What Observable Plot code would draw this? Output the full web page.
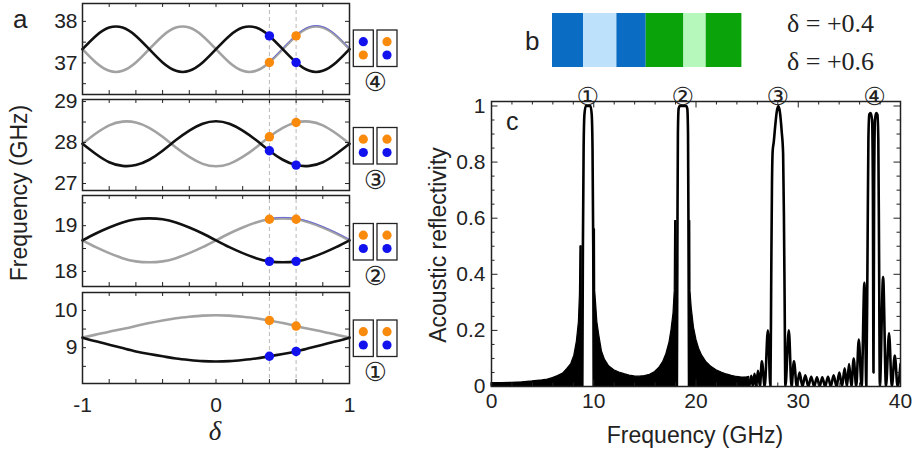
<!DOCTYPE html>
<html><head><meta charset="utf-8">
<script src="https://cdn.jsdelivr.net/npm/d3@7"></script>
<script src="https://cdn.jsdelivr.net/npm/@observablehq/plot@0.6"></script>
<style>
body{margin:0;background:#fff;}
#root{position:relative;width:913px;height:457px;overflow:hidden;font-family:"Liberation Sans",Arial,sans-serif;color:#222;background:#fff;}
#root svg{position:absolute;}
</style></head><body><div id="root"></div>
<script>
// ---------- Panel a data (band frequencies, GHz, vs delta) ----------
const delta = [-1,-0.9,-0.8,-0.7,-0.6,-0.5,-0.4,-0.3,-0.2,-0.1,0,0.1,0.2,0.3,0.4,0.5,0.6,0.7,0.8,0.9,1];
const mode4Black = [37.33,37.65,37.85,37.85,37.65,37.33,37.01,36.81,36.81,37.01,37.33,37.65,37.85,37.85,37.65,37.33,37.01,36.81,36.81,37.01,37.33];
const mode4Gray  = [37.33,37.01,36.81,36.81,37.01,37.33,37.65,37.85,37.85,37.65,37.33,37.01,36.81,36.81,37.01,37.33,37.65,37.85,37.85,37.65,37.33];
const mode3Black = [27.97,27.72,27.52,27.43,27.45,27.58,27.80,28.06,28.29,28.46,28.52,28.46,28.29,28.06,27.80,27.58,27.45,27.43,27.52,27.72,27.97];
const mode3Gray  = [27.97,28.22,28.42,28.51,28.49,28.36,28.14,27.88,27.65,27.48,27.42,27.48,27.65,27.88,28.14,28.36,28.49,28.51,28.42,28.22,27.97];
const mode2Black = [18.68,18.83,18.96,19.07,19.14,19.16,19.14,19.07,18.96,18.83,18.68,18.53,18.40,18.29,18.22,18.20,18.22,18.29,18.40,18.53,18.68];
const mode2Gray  = [18.68,18.53,18.40,18.29,18.22,18.20,18.22,18.29,18.40,18.53,18.68,18.83,18.96,19.07,19.14,19.16,19.14,19.07,18.96,18.83,18.68];
const mode1Black = [9.27,9.17,9.08,8.99,8.90,8.83,8.77,8.71,8.67,8.64,8.63,8.64,8.67,8.71,8.77,8.83,8.90,8.99,9.08,9.17,9.27];
const mode1Gray  = [9.27,9.35,9.43,9.50,9.58,9.66,9.73,9.79,9.83,9.86,9.87,9.86,9.83,9.79,9.73,9.66,9.58,9.50,9.43,9.35,9.27];
const dotDelta = [0.4, 0.6];
const mode4Blue = [37.65, 37.01], mode4Orange = [37.01, 37.65];
const mode3Blue = [27.80, 27.45], mode3Orange = [28.14, 28.49];
const mode2Blue = [18.22, 18.22], mode2Orange = [19.14, 19.14];
const mode1Blue = [8.77, 8.90],  mode1Orange = [9.73, 9.58];
const deltaTicks = [-1, 0, 1];
const modeLabels = ["④", "③", "②", "①"];
// legend dot order in the two boxes (top, bottom) for each mode
const legendOrder = [[["blue","orange"],["orange","blue"]],[["orange","blue"],["orange","blue"]],[["orange","blue"],["orange","blue"]],[["orange","blue"],["orange","blue"]]];

// ---------- Panel b data (layer thicknesses, arbitrary units) ----------
const layerThickness = [31, 33.4, 29.3, 37.7, 22.3, 35.7];
const layerColor = ["#0a6cc2", "#bde1fb", "#0a6cc2", "#0aa30a", "#b6f7bc", "#0aa30a"];
const layerLabels = ["δ = +0.4", "δ = +0.6"];

// ---------- Panel c data (reflectivity vs frequency, GHz) ----------
const sidelobesLow = [[0,0.012],[1,0.012],[2,0.013],[3,0.015],[4,0.018],[5,0.022],[5.5,0.025],[6,0.03],[6.5,0.037],[7,0.046],[7.4,0.062],[7.8,0.08],[8.1,0.11],[8.35,0.16],[8.55,0.23],[8.65,0.33],[8.7,0.5],[8.82,0.5],[8.84,0]];
const peak1 = [[8.88,0],[8.94,0.5],[9.01,0.85],[9.09,0.97],[9.22,1.0],[9.68,1.0],[9.8,0.97],[9.88,0.85],[9.95,0.5],[10.0,0]];
const sidelobesMid1 = [[10.02,0],[10.03,0.56],[10.12,0.56],[10.14,0.34],[10.22,0.3],[10.35,0.23],[10.55,0.18],[10.8,0.125],[11.1,0.095],[11.5,0.072],[12,0.058],[12.5,0.05],[13,0.044],[13.5,0.039],[14,0.036],[14.5,0.035],[15,0.037],[15.5,0.042],[16,0.052],[16.4,0.066],[16.8,0.088],[17.1,0.115],[17.4,0.155],[17.6,0.2],[17.8,0.26],[17.92,0.34],[17.96,0.59],[18.08,0.59],[18.1,0]];
const peak2 = [[18.13,0],[18.18,0.5],[18.23,0.9],[18.3,0.99],[18.4,1.0],[19.05,1.0],[19.15,0.99],[19.22,0.9],[19.27,0.5],[19.32,0]];
const sidelobesMid2 = [[19.33,0],[19.34,0.59],[19.44,0.59],[19.46,0.34],[19.58,0.28],[19.8,0.21],[20.05,0.165],[20.3,0.135],[20.6,0.11],[21,0.088],[21.5,0.07],[22,0.058],[22.5,0.05],[23,0.043],[23.5,0.038],[24,0.034],[24.5,0.032],[25,0.033],[25.2,0.034],[25.25,0]];
const tail = [[25.22,0],[25.4,0.038],[25.56,0],[25.72,0.045],[25.89,0],[26.06,0.056],[26.25,0],[26.44,0.09],[26.72,0],[27.03,0.2],[27.28,0],
  [27.36,0.4],[27.43,0.72],[27.5,0.84],[27.6,0.87],[27.75,0.93],[27.9,0.98],[28.05,1.0],[28.2,0.98],[28.38,0.91],[28.52,0.83],[28.6,0.6],[28.67,0.3],[28.74,0],
  [29.08,0.2],[29.34,0],[29.58,0.09],[29.86,0],[30.13,0.05],[30.41,0],[30.69,0.04],[30.98,0],[31.27,0.035],[31.55,0],[31.83,0.033],[32.09,0],[32.35,0.033],[32.63,0],[32.91,0.035],[33.18,0],[33.46,0.04],[33.74,0],[34.02,0.05],[34.28,0],[34.54,0.065],[34.76,0],[34.97,0.08],[35.2,0],[35.42,0.1],[35.67,0],[35.92,0.167],[36.2,0],[36.47,0.37],[36.66,0],
  [36.78,0.5],[36.86,0.88],[36.95,0.97],[37.08,0.975],[37.22,0.95],[37.3,0.7],[37.36,0.05],[37.42,0.7],[37.5,0.95],[37.62,0.975],[37.74,0.97],[37.83,0.88],[37.9,0.5],[37.98,0],
  [38.3,0.39],[38.58,0],[38.88,0.19],[39.15,0],[39.44,0.11],[39.72,0],[40,0.08]];
const freqTicks = [0, 10, 20, 30, 40];
const reflTicks = [0, 0.2, 0.4, 0.6, 0.8, 1];
const peakFreq = [9.4, 18.7, 28.0, 37.45];
const peakLabel = ["①", "②", "③", "④"];

// ---------- helpers ----------
const root = document.getElementById("root");
const INK = "#222";
const baseStyle = {background: "transparent", fontFamily: "Liberation Sans, Arial, sans-serif", fontSize: "21px", color: INK, overflow: "visible"};
function place(svg, left, top) { svg.style.left = left + "px"; svg.style.top = top + "px"; root.appendChild(svg); }
function frameTicks(xt, yt, fw, fh, lx, ly) {
  return [
    Plot.tickX(xt, {x: d => d, insetTop: fh - lx, stroke: INK, strokeWidth: 1}),
    Plot.tickX(xt, {x: d => d, insetBottom: fh - lx, stroke: INK, strokeWidth: 1}),
    Plot.tickY(yt, {y: d => d, insetRight: fw - ly, stroke: INK, strokeWidth: 1}),
    Plot.tickY(yt, {y: d => d, insetLeft: fw - ly, stroke: INK, strokeWidth: 1})
  ];
}

// ---------- dashed guide lines across panel a ----------
place(Plot.plot({
  width: 352, height: 381, marginLeft: 82, marginRight: 3, marginTop: 0, marginBottom: 0,
  x: {domain: [-1, 1], axis: null}, style: baseStyle,
  marks: [Plot.ruleX(dotDelta, {stroke: "#b8b8b8", strokeWidth: 1, strokeDasharray: "4,3"})]
}), 0, 3);

// ---------- panel a subplots ----------
const bands = [
  {black: mode4Black, gray: mode4Gray, blue: mode4Blue, orange: mode4Orange, domain: [36.24, 38.43], ticks: [37, 38], minor: [36.5, 37, 37.5, 38], top: 3, thin: 0.45},
  {black: mode3Black, gray: mode3Gray, blue: mode3Blue, orange: mode3Orange, domain: [26.83, 29.05], ticks: [27, 28, 29], minor: [27, 27.5, 28, 28.5, 29], top: 99},
  {black: mode2Black, gray: mode2Gray, blue: mode2Blue, orange: mode2Orange, domain: [17.67, 19.66], ticks: [18, 19], minor: [18, 18.5, 19, 19.5], top: 195, thin: 0.42},
  {black: mode1Black, gray: mode1Gray, blue: mode1Blue, orange: mode1Orange, domain: [8.04, 10.48], ticks: [9, 10], minor: [8.5, 9, 9.5, 10], top: 292, bottom: true}
];
const xMinor = [-0.8, -0.6, -0.4, -0.2, 0, 0.2, 0.4, 0.6, 0.8];
bands.forEach(s => {
  const fh = 91, W = 352, ml = 82, mr = 3, fw = W - ml - mr;
  const mb = s.bottom ? 34 : 0;
  const rows = delta.map((d, i) => ({d, b: s.black[i], g: s.gray[i]}));
  const dots = dotDelta.flatMap((d, i) => [{d, v: s.blue[i], c: "#1212ee"}, {d, v: s.orange[i], c: "#fa8a0c"}]);
  const marks = [
    Plot.line(rows, {x: "d", y: "g", stroke: "#a2a2a2", strokeWidth: 2.6, curve: "natural"}),
    s.thin ? Plot.line(rows.filter(r => r.d >= s.thin - 0.05), {x: "d", y: "g", stroke: "#6464dc", strokeWidth: 0.9, curve: "natural", dy: -1}) : null,
    Plot.line(rows, {x: "d", y: "b", stroke: "#111", strokeWidth: 2.6, curve: "natural"}),
    Plot.dot(dots, {x: "d", y: "v", fill: "c", r: 4.7}),
    ...frameTicks(xMinor, s.minor, fw, fh, 4, 4),
    Plot.frame({stroke: INK, strokeWidth: 1.5}),
    Plot.axisY({ticks: s.ticks, tickSize: 0, tickPadding: 5, tickFormat: d => String(d), label: null, fontSize: 21})
  ];
  if (s.bottom) marks.push(Plot.axisX({ticks: deltaTicks, tickSize: 0, tickPadding: 14, tickFormat: d => String(d), label: null, fontSize: 21}));
  const svg = Plot.plot({
    width: W, height: fh + mb, marginLeft: ml, marginRight: mr, marginTop: 0, marginBottom: mb,
    x: s.bottom ? {domain: [-1, 1]} : {domain: [-1, 1], axis: null},
    y: {domain: s.domain}, color: {type: "identity"}, style: baseStyle,
    marks: marks.filter(Boolean)
  });
  place(svg, 0, s.top);
});

// ---------- panel b ----------
place(Plot.plot({
  width: 280, height: 67, marginLeft: 72, marginRight: 280 - 72 - d3.sum(layerThickness), marginTop: 13, marginBottom: 0,
  x: {domain: [0, d3.sum(layerThickness)], axis: null}, color: {type: "identity"}, style: baseStyle,
  marks: [Plot.barX(layerThickness.map((w, i) => ({w, c: layerColor[i]})), {x: "w", fill: "c"})]
}), 480, 0);

// ---------- panel c ----------
const xMinorC = d3.range(2, 40, 2).filter(v => v % 10 !== 0);
const yMinorC = d3.range(1, 20).map(i => i * 0.05).filter((v, i) => (i + 1) % 4 !== 0);
const segs = [sidelobesLow, sidelobesMid1, sidelobesMid2].flatMap((seg, k) => seg.map(p => ({f: p[0], r: p[1], k})));
const lines = [peak1, peak2, tail].flatMap((seg, k) => seg.map(p => ({f: p[0], r: p[1], k})));
const fwC = 409, fhC = 285;
place(Plot.plot({
  width: 493, height: 457, marginLeft: 71, marginRight: 13, marginTop: 101, marginBottom: 71,
  x: {domain: [0, 40]}, y: {domain: [0, 1.016]}, style: baseStyle,
  marks: [
    Plot.areaY(segs, {x: "f", y: "r", z: "k", fill: "#000", stroke: "#000", strokeWidth: 1.2, curve: "linear"}),
    Plot.line(lines, {x: "f", y: "r", z: "k", stroke: "#000", strokeWidth: 2.6, curve: "monotone-x", clip: "frame"}),
    ...frameTicks(xMinorC, yMinorC, fwC, fhC, 3.5, 3.5),
    ...frameTicks(freqTicks, reflTicks, fwC, fhC, 6.5, 6.5),
    Plot.frame({stroke: INK, strokeWidth: 1.5}),
    Plot.axisY({ticks: reflTicks, tickSize: 0, tickPadding: 6, tickFormat: d => String(d), label: null, fontSize: 21}),
    Plot.axisX({ticks: freqTicks, tickSize: 0, tickPadding: 7, tickFormat: d => String(d), label: null, fontSize: 21}),
    Plot.text(peakFreq.map((f, i) => ({f, t: peakLabel[i]})), {x: "f", text: "t", frameAnchor: "top", lineAnchor: "bottom", dy: 3, fontSize: 25, fontFamily: "DejaVu Sans", fill: INK})
  ]
}), 420, 0);

// ---------- texts, legends ----------
const ov = d3.select(root).append("svg").attr("width", 913).attr("height", 457).style("left", "0px").style("top", "0px").style("pointer-events", "none");
const sans = "Liberation Sans, Arial, sans-serif";
function txt(x, y, s, o = {}) {
  return ov.append("text").attr("x", x).attr("y", y).text(s)
    .attr("font-family", o.ff || sans).attr("font-size", o.fs || 21).attr("fill", INK)
    .attr("text-anchor", o.anchor || "start").attr("font-style", o.style || null)
    .attr("transform", o.rot ? `rotate(-90 ${x} ${y})` : null);
}
txt(13, 28, "a", {fs: 26});
txt(525, 50, "b", {fs: 26});
txt(506, 130, "c", {fs: 25});
txt(27, 193, "Frequency (GHz)", {fs: 23, anchor: "middle", rot: true});
txt(215, 440, "δ", {fs: 27, ff: "Liberation Serif, serif", style: "italic", anchor: "middle"});
txt(446, 245, "Acoustic reflectivity", {fs: 23, anchor: "middle", rot: true});
txt(695, 443, "Frequency (GHz)", {fs: 23, anchor: "middle"});
txt(787, 31.5, layerLabels[0], {fs: 26, ff: "Liberation Serif, serif"});
txt(787, 70, layerLabels[1], {fs: 26, ff: "Liberation Serif, serif"});

const legendTop = [30, 127.5, 223.5, 320];
const dotColor = {blue: "#1212ee", orange: "#fa8a0c"};
legendTop.forEach((t, m) => {
  [353.3, 377].forEach((bx, b) => {
    ov.append("rect").attr("x", bx).attr("y", t).attr("width", 20).attr("height", 36.5).attr("fill", "none").attr("stroke", INK).attr("stroke-width", 1.3);
    legendOrder[m][b].forEach((c, j) => {
      ov.append("circle").attr("cx", bx + 10).attr("cy", t + 11.7 + j * 13.3).attr("r", 4.6).attr("fill", dotColor[c]);
    });
  });
  txt(375.5, t + 61, modeLabels[m], {fs: 26, ff: "DejaVu Sans", anchor: "middle"});
});
</script></body></html>
